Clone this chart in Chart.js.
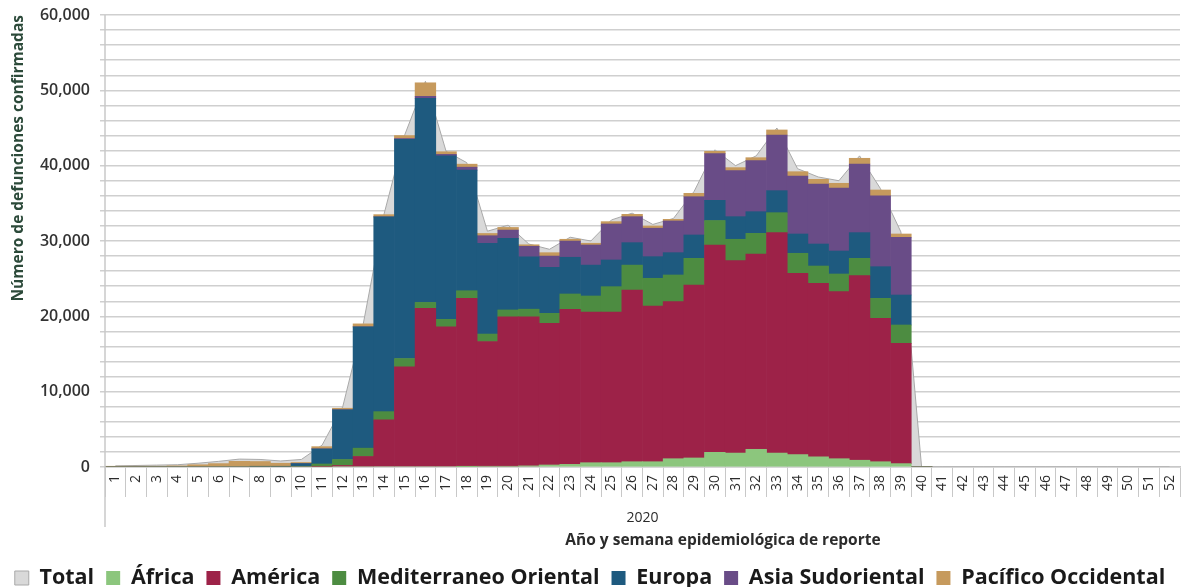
<!DOCTYPE html>
<html>
<head>
<meta charset="utf-8">
<script src="https://cdn.jsdelivr.net/npm/chart.js@4/dist/chart.umd.min.js"></script>
<style>
html,body{margin:0;padding:0;background:#fff;}
#wrap{width:1181px;height:587px;position:relative;}
</style>
</head>
<body>
<div id="wrap"><canvas id="c"></canvas></div>
<script>
const weeks = ['1','2','3','4','5','6','7','8','9','10','11','12','13','14','15','16','17','18','19','20','21','22','23','24','25','26','27','28','29','30','31','32','33','34','35','36','37','38','39','40','41','42','43','44','45','46','47','48','49','50','51','52'];

const total = [150,200,250,300,500,750,1050,1000,800,1000,
  2900,8000,19100,33600,44100,51200,41900,40400,31300,32100,
  29600,28900,30500,30000,32800,33700,32200,33000,36600,42100,
  40000,41300,45000,39600,38500,38000,41300,37000,31200,0,
  0,0,0,0,0,0,0,0,0,0,0,0];

const africa = [0,0,0,0,0,0,0,0,0,0,
  0,0,0,0,0,0,0,50,100,100,
  150,270,350,570,570,700,700,1100,1200,1950,
  1850,2350,1850,1650,1350,1100,900,700,450,0];

const america = [0,0,0,0,0,0,0,0,0,0,
  50,200,1400,6250,13300,21050,18600,22350,16550,19850,
  19800,18800,20580,20010,20010,22800,20670,20850,22960,27520,
  25540,25930,29260,24060,23030,22170,24500,19040,15970,0];

const mediterraneo = [0,0,0,0,0,0,0,0,0,100,
  350,800,1100,1100,1100,800,1000,1000,1000,900,
  1000,1330,2040,2120,3360,3300,3680,3540,3540,3250,
  2840,2740,2650,2660,2300,2350,2300,2650,2430,0];

const europa = [0,0,0,0,0,0,0,30,50,350,
  2000,6600,16100,25850,29100,27100,21700,16000,12050,9500,
  6950,6100,4870,4100,3540,2980,2870,2960,3100,2680,
  3000,2870,2920,2560,2920,3050,3410,4200,3980,0];

const asia = [0,0,0,0,0,0,0,0,0,0,
  0,0,0,0,100,250,200,400,1000,1100,
  1400,1500,2150,2670,4780,3450,3780,4210,5080,6190,
  6110,6770,7390,7690,7970,8360,9110,9390,7660,0];

const pacifico = [80,80,100,150,300,450,750,700,450,150,
  300,200,400,300,400,1800,350,400,300,350,
  200,450,240,230,310,310,300,220,450,310,
  400,400,670,580,620,630,760,790,440,0];

const yTickLabels = ['0','10,000','20,000','30,000','40,000','50,000','60,000'];
const yearLabel = '2020';
const xTitle = 'Año y semana epidemiológica de reporte';

const FONT = '"Open Sans", "DejaVu Sans", sans-serif';
const LEG_PAD = 12;
const LEG_FONT = 21.5;

const extras = {
  id: 'extras',
  afterLayout(chart) {
    const lg = chart.legend;
    if (!lg) return;
    const h = lg.bottom - lg.top;
    lg.top = 578 - LEG_PAD - LEG_FONT / 2;
    lg.bottom = lg.top + h;
  },
  afterDraw(chart) {
    const {ctx, chartArea} = chart;
    ctx.save();
    ctx.strokeStyle = '#c8c8c8';
    ctx.lineWidth = 1.5;
    ctx.beginPath();
    ctx.moveTo(chartArea.left, chartArea.top);
    ctx.lineTo(chartArea.left, 527);
    ctx.stroke();
    ctx.fillStyle = '#2b2b2b';
    ctx.textAlign = 'center';
    ctx.textBaseline = 'middle';
    ctx.font = '14px ' + FONT;
    ctx.fillText(yearLabel, (chartArea.left + chartArea.right) / 2, 518);
    ctx.font = 'bold 15.5px ' + FONT;
    ctx.fillText(xTitle, 723, 541);
    ctx.restore();
  }
};

const bar = (label, data, color) => ({
  type: 'bar', label, data, backgroundColor: color, borderWidth: 0,
  barPercentage: 1.0, categoryPercentage: 1.0, stack: 'regions', order: 1
});

new Chart(document.getElementById('c'), {
  data: {
    labels: weeks,
    datasets: [
      { type: 'line', label: 'Total', data: total, fill: 'origin',
        backgroundColor: '#d9d9d9', borderColor: '#a9a9a9', borderWidth: 1,
        pointRadius: 0, tension: 0, stack: 'total', order: 10 },
      bar('África', africa, '#8cc67d'),
      bar('América', america, '#9d2248'),
      bar('Mediterraneo Oriental', mediterraneo, '#4d8c41'),
      bar('Europa', europa, '#1e5a7f'),
      bar('Asia Sudoriental', asia, '#694c87'),
      bar('Pacífico Occidental', pacifico, '#c69a5d')
    ]
  },
  options: {
    responsive: true,
    maintainAspectRatio: false,
    animation: false,
    layout: { padding: { top: 15, right: 1, left: 0, bottom: 0 } },
    plugins: {
      tooltip: { enabled: false },
      legend: {
        position: 'bottom',
        labels: {
          boxWidth: 14, boxHeight: 14, padding: LEG_PAD,
          color: '#1a1a1a',
          font: { family: FONT, size: LEG_FONT, weight: 'bold', lineHeight: 1.0 },
          sort: (a, b) => a.datasetIndex - b.datasetIndex
        }
      }
    },
    scales: {
      x: {
        stacked: true,
        offset: true,
        afterFit(s) {
          const lg = s.chart.legend;
          const lh = lg ? lg.height : 30;
          s.height = 587 - 467 - lh;
        },
        grid: { offset: true, drawOnChartArea: false, tickLength: 30, color: '#c8c8c8', lineWidth: 1 },
        border: { display: true, color: '#c8c8c8', width: 1.5 },
        ticks: { autoSkip: false, minRotation: 90, maxRotation: 90, padding: -22,
          color: '#2b2b2b', font: { family: FONT, size: 14 } }
      },
      y: {
        stacked: true,
        min: 0, max: 60000,
        afterFit(s) { s.width = 105; s.paddingTop = 0; s.paddingBottom = 0; },
        afterBuildTicks(s) {
          const t = [];
          for (let v = 0; v <= 60000; v += 2000) t.push({ value: v });
          s.ticks = t;
        },
        grid: { color: '#cfcfcf', lineWidth: 1.5, tickLength: 5 },
        border: { display: false },
        ticks: {
          autoSkip: false,
          padding: 10, color: '#333333', font: { family: FONT, size: 16, weight: '600' },
          callback(v) { return v % 10000 === 0 ? yTickLabels[v / 10000] : ''; }
        },
        title: { display: true, text: 'Número de defunciones confirmadas', color: '#2c4a3a', align: 'end',
          font: { family: FONT, size: 15.5, weight: 'bold' }, padding: { top: 9, bottom: 0 } }
      }
    }
  },
  plugins: [extras]
});
</script>
</body>
</html>
